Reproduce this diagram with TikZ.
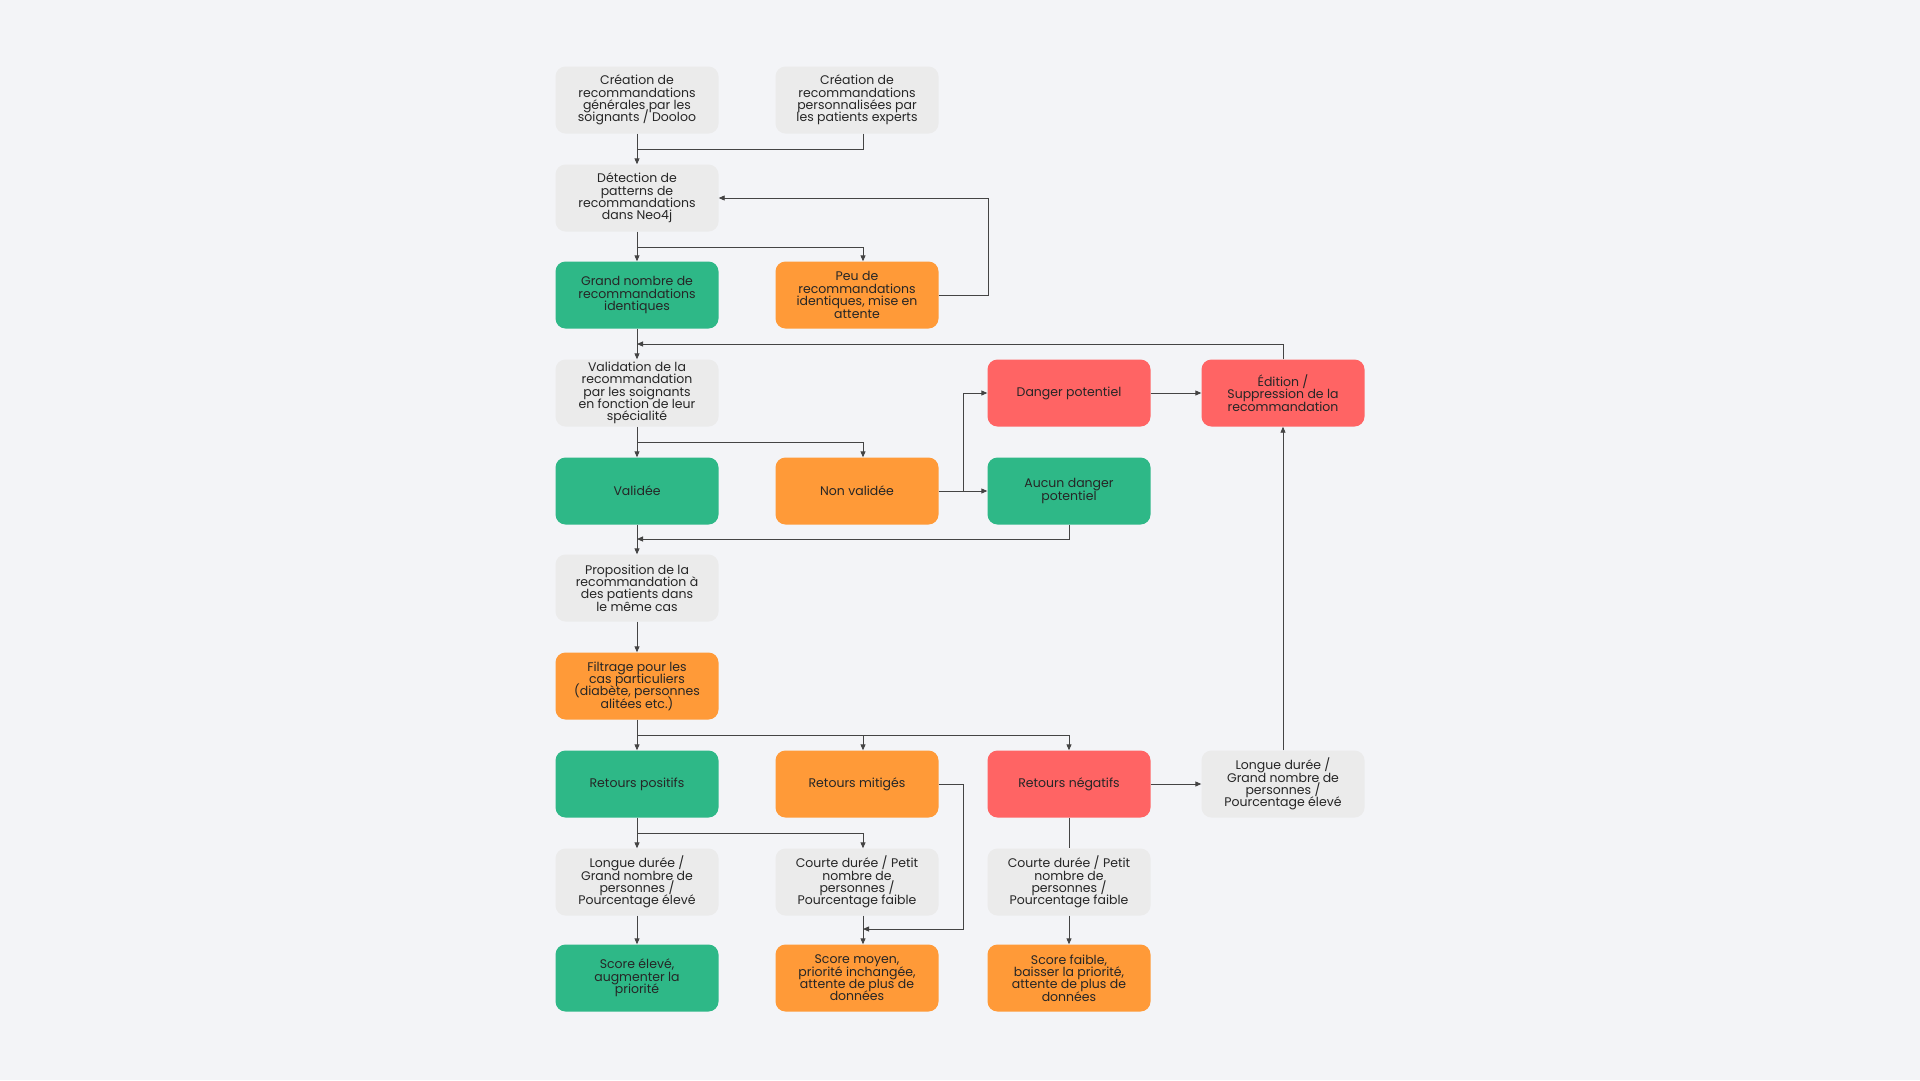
\documentclass[tikz,border=0pt]{standalone}
\usepackage{fontspec}
\setmainfont{Poppins}
\usetikzlibrary{arrows.meta}
\definecolor{bgcol}{HTML}{F3F4F7}
\definecolor{boxgray}{HTML}{EBEBEB}
\definecolor{boxgreen}{HTML}{2EB887}
\definecolor{boxorange}{HTML}{FF9A38}
\definecolor{boxred}{HTML}{FF6464}
\definecolor{linecol}{HTML}{444444}
\newcommand{\boxfont}{\fontsize{12.5}{12.4}\selectfont\lineskiplimit=-20pt\relax}
\tikzset{
  flowbox/.style={rounded corners=10pt, minimum width=163pt, minimum height=67pt,
    align=center, inner sep=2pt, text=black!85, font=\boxfont},
  graybox/.style={flowbox, fill=boxgray},
  greenbox/.style={flowbox, fill=boxgreen},
  orangebox/.style={flowbox, fill=boxorange},
  redbox/.style={flowbox, fill=boxred},
  link/.style={draw=linecol, line width=0.9pt},
  arr/.style={link, -{Triangle[length=6pt,width=5pt]}}
}
\newcommand{\flownode}[5]{ \node[#2] (#1) at ( #3 , #4 ) {#5};}

\begin{document}
\begin{tikzpicture}[x=1pt,y=-1pt]
        \fill[bgcol] (0,0) rectangle (1920,1080);
        \useasboundingbox (0,0) rectangle (1920,1080);
        % row1
        \flownode{crea1}{graybox}{637}{100}{Création de\\recommandations\\générales par les\\soignants / Dooloo}
        \flownode{crea2}{graybox}{857}{100}{Création de\\recommandations\\personnalisées par\\les patients experts}
        % row2
        \flownode{detect}{graybox}{637}{198}{Détection de\\patterns de\\recommandations\\dans Neo4j}
        % row3
        \flownode{grand}{greenbox}{637}{295}{Grand nombre de\\recommandations\\identiques}
        \flownode{peu}{orangebox}{857}{295}{Peu de\\recommandations\\identiques, mise en\\attente}
        % row4
        \flownode{valid}{graybox}{637}{393}{Validation de la\\recommandation\\par les soignants\\en fonction de leur\\spécialité}
        \flownode{danger}{redbox}{1069}{393}{Danger potentiel}
        \flownode{edition}{redbox}{1283}{393}{Édition /\\Suppression de la\\recommandation}
        % row5
        \flownode{validee}{greenbox}{637}{491}{Validée}
        \flownode{nonval}{orangebox}{857}{491}{Non validée}
        \flownode{aucun}{greenbox}{1069}{491}{Aucun danger\\potentiel}
        % row6
        \flownode{propo}{graybox}{637}{588}{Proposition de la\\recommandation à\\des patients dans\\le même cas}
        % row7
        \flownode{filtre}{orangebox}{637}{686}{Filtrage pour les\\cas particuliers\\(diabète, personnes\\alitées etc.)}
        % row8
        \flownode{rpos}{greenbox}{637}{784}{Retours positifs}
        \flownode{rmit}{orangebox}{857}{784}{Retours mitigés}
        \flownode{rneg}{redbox}{1069}{784}{Retours négatifs}
        \flownode{longneg}{graybox}{1283}{784}{Longue durée /\\Grand nombre de\\personnes /\\Pourcentage élevé}
        % row9
        \flownode{longpos}{graybox}{637}{882}{Longue durée /\\Grand nombre de\\personnes /\\Pourcentage élevé}
        \flownode{courtmit}{graybox}{857}{882}{Courte durée / Petit\\nombre de\\personnes /\\Pourcentage faible}
        \flownode{courtneg}{graybox}{1069}{882}{Courte durée / Petit\\nombre de\\personnes /\\Pourcentage faible}
        % row10
        \flownode{selev}{greenbox}{637}{978}{Score élevé,\\augmenter la\\priorité}
        \flownode{smoy}{orangebox}{857}{978}{Score moyen,\\priorité inchangée,\\attente de plus de\\données}
        \flownode{sfaible}{orangebox}{1069}{978}{Score faible,\\baisser la priorité,\\attente de plus de\\données}

        % junctions
        \coordinate (jcrea) at (637,149);
        \coordinate (jdet) at (637,247);
        \coordinate (jedit) at (637,344);
        \coordinate (jval) at (637,442);
        \coordinate (jaucun) at (637,539);
        \coordinate (jfilt) at (637,735);
        \coordinate (jpos) at (637,833);
        \coordinate (jmit) at (863,929);

        % top
        \draw[arr] (crea1.south) -- (detect.north);
        \draw[link] ([xshift=6pt]crea2.south) |- (jcrea);
        \draw[arr] (detect.south) -- (grand.north);
        \draw[arr] (jdet) -| ([xshift=6pt]peu.north);
        \draw[arr] (peu.east) -- ++(50,0) |- (detect.east);
        % validation
        \draw[arr] (grand.south) -- (valid.north);
        \draw[arr] (edition.north) |- (jedit);
        \draw[arr] (valid.south) -- (validee.north);
        \draw[arr] (jval) -| ([xshift=6pt]nonval.north);
        \draw[link] (nonval.east) -- ++(25,0) coordinate (knv);
        \draw[arr] (knv) |- (danger.west);
        \draw[arr] (knv) -- (aucun.west);
        \draw[arr] (danger.east) -- (edition.west);
        \draw[arr] (aucun.south) |- (jaucun);
        % proposition
        \draw[arr] (validee.south) -- (propo.north);
        \draw[arr] (propo.south) -- (filtre.north);
        \draw[arr] (filtre.south) -- (rpos.north);
        \draw[arr] (jfilt) -| ([xshift=6pt]rmit.north);
        \draw[arr] (jfilt) -| (rneg.north);
        \draw[arr] (rneg.east) -- (longneg.west);
        \draw[arr] (longneg.north) -- (edition.south);
        % scores
        \draw[arr] (rpos.south) -- (longpos.north);
        \draw[arr] (jpos) -| ([xshift=6pt]courtmit.north);
        \draw[arr] (rmit.east) -- ++(25,0) |- (jmit);
        \draw[arr] ([xshift=6pt]courtmit.south) -- ([xshift=6pt]smoy.north);
        \draw[link] (rneg.south) -- (courtneg.north);
        \draw[arr] (courtneg.south) -- (sfaible.north);
        \draw[arr] (longpos.south) -- (selev.north);
\end{tikzpicture}
\end{document}
